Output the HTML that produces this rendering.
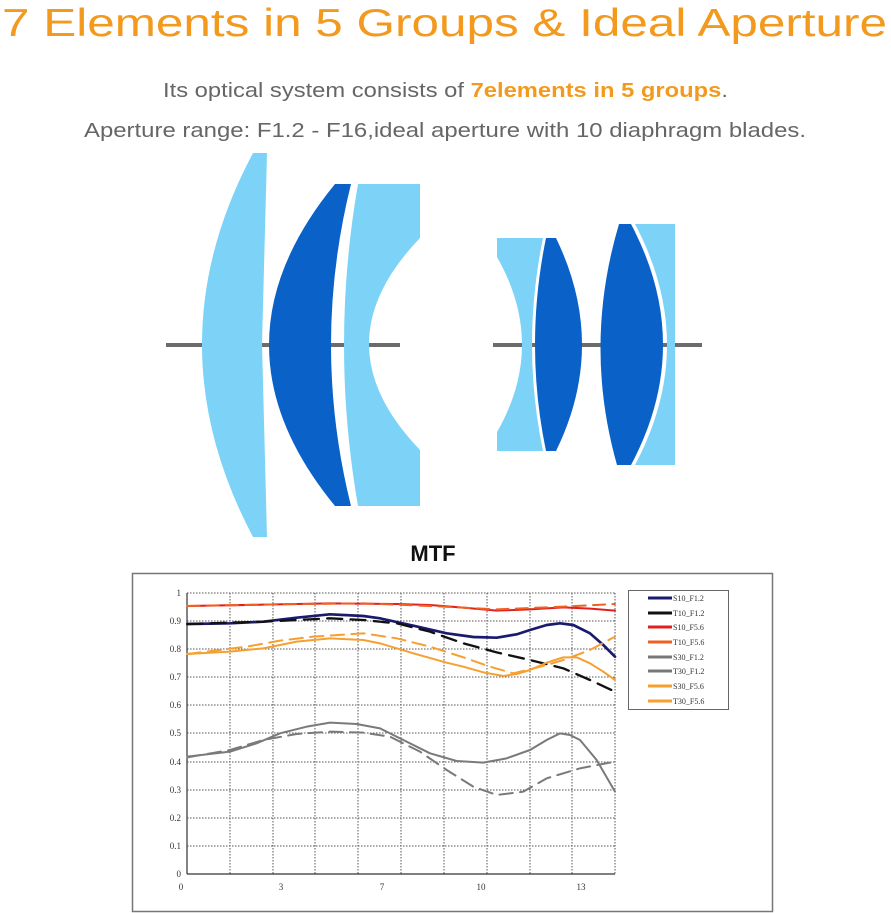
<!DOCTYPE html>
<html><head><meta charset="utf-8"><style>
html,body{margin:0;padding:0;background:#fff;}
svg{display:block}
</style></head><body>
<svg width="891" height="913" viewBox="0 0 891 913" xmlns="http://www.w3.org/2000/svg">
<rect width="891" height="913" fill="#fff"/>
<text x="2" y="36" font-family="Liberation Sans, sans-serif" font-size="39" fill="#F39A1E" textLength="885" lengthAdjust="spacingAndGlyphs">7 Elements in 5 Groups &amp; Ideal Aperture</text>
<text x="163" y="97" font-family="Liberation Sans, sans-serif" font-size="20" fill="#666" textLength="565" lengthAdjust="spacingAndGlyphs">Its optical system consists of <tspan fill="#F39A1E" font-weight="bold">7elements in 5 groups</tspan>.</text>
<text x="84" y="137" font-family="Liberation Sans, sans-serif" font-size="20" fill="#666" textLength="722" lengthAdjust="spacingAndGlyphs">Aperture range: F1.2 - F16,ideal aperture with 10 diaphragm blades.</text>

<!-- axes lines -->
<line x1="166" y1="345" x2="400" y2="345" stroke="#6b6b6b" stroke-width="4"/>
<line x1="493" y1="345" x2="702" y2="345" stroke="#6b6b6b" stroke-width="4"/>
<!-- lenses -->
<path d="M253,153 L267,153 L262,344 L267,537 L253,537 Q151,344 253,153 Z" fill="#7DD3F7"/>
<path d="M335,184 L351,184 Q311,345 351,506 L335,506 Q203,345 335,184 Z" fill="#0A62C8"/>
<path d="M358,184 L420,184 L420,238 Q318,344 420,450 L420,506 L358,506 Q330,345 358,184 Z" fill="#7DD3F7"/>
<path d="M497,238 L543,238 Q521,345 543,451 L497,451 L497,432 Q547,345 497,257 Z" fill="#7DD3F7"/>
<path d="M546,238 L556,238 Q608,345 556,451 L546,451 Q524,345 546,238 Z" fill="#0A62C8"/>
<path d="M619,224 L631,224 Q695,345 631,465 L617,465 Q583,345 619,224 Z" fill="#0A62C8"/>
<path d="M635,224 L675,224 L675,465 L635,465 Q699,345 635,224 Z" fill="#7DD3F7"/>

<text x="433" y="561" text-anchor="middle" font-family="Liberation Sans, sans-serif" font-weight="bold" font-size="22" fill="#111">MTF</text>
<rect x="132.5" y="573.5" width="640" height="338" fill="#fff" stroke="#777" stroke-width="1.5"/>

<g stroke="#555" stroke-width="1" stroke-dasharray="1.5,1.5">
<line x1="187" y1="593" x2="615" y2="593"/><line x1="187" y1="621" x2="615" y2="621"/><line x1="187" y1="649" x2="615" y2="649"/><line x1="187" y1="677" x2="615" y2="677"/><line x1="187" y1="705" x2="615" y2="705"/><line x1="187" y1="733" x2="615" y2="733"/><line x1="187" y1="762" x2="615" y2="762"/><line x1="187" y1="790" x2="615" y2="790"/><line x1="187" y1="818" x2="615" y2="818"/><line x1="187" y1="846" x2="615" y2="846"/>
<line x1="230" y1="593" x2="230" y2="874"/><line x1="273" y1="593" x2="273" y2="874"/><line x1="315" y1="593" x2="315" y2="874"/><line x1="358" y1="593" x2="358" y2="874"/><line x1="401" y1="593" x2="401" y2="874"/><line x1="444" y1="593" x2="444" y2="874"/><line x1="487" y1="593" x2="487" y2="874"/><line x1="530" y1="593" x2="530" y2="874"/><line x1="572" y1="593" x2="572" y2="874"/><line x1="615" y1="593" x2="615" y2="874"/>
</g>
<line x1="187" y1="593" x2="187" y2="874" stroke="#333" stroke-width="1.2"/>
<line x1="187" y1="874" x2="615" y2="874" stroke="#333" stroke-width="1.2"/>
<g font-family="Liberation Serif, serif" font-size="9" fill="#333" text-anchor="end">
<text x="181" y="596">1</text><text x="181" y="624">0.9</text><text x="181" y="652">0.8</text><text x="181" y="680">0.7</text><text x="181" y="708">0.6</text><text x="181" y="736">0.5</text><text x="181" y="765">0.4</text><text x="181" y="793">0.3</text><text x="181" y="821">0.2</text><text x="181" y="849">0.1</text><text x="181" y="877">0</text>
</g>
<g font-family="Liberation Serif, serif" font-size="9" fill="#333" text-anchor="middle">
<text x="181" y="890">0</text><text x="281" y="890">3</text><text x="382" y="890">7</text><text x="481" y="890">10</text><text x="581" y="890">13</text>
</g>

<g transform="translate(130,570) scale(0.33333)" fill="none" stroke-linejoin="round" stroke-linecap="round" stroke-width="6">
<polyline stroke="#e02020" points="172,108 400,104 600,100 800,102 900,105 1000,113 1100,122 1200,118 1300,112 1380,116 1455,122"/>
<polyline stroke="#f06020" stroke-dasharray="36,22" points="172,108 450,103 700,100 900,108 1100,118 1200,114 1300,110 1455,102"/>
<polyline stroke="#1a1a6e" stroke-width="8" points="172,162 300,160 400,155 500,143 600,133 700,138 750,145 850,167 950,190 1030,201 1100,203 1160,193 1200,180 1250,165 1290,160 1330,165 1380,190 1420,225 1455,260"/>
<polyline stroke="#111" stroke-width="7" stroke-dasharray="45,25" points="172,162 400,155 600,145 700,150 800,160 900,185 1000,220 1100,247 1200,270 1300,295 1380,330 1455,365"/>
<polyline stroke="#f5a030" points="172,252 300,245 400,235 500,215 600,205 700,210 750,220 850,250 950,278 1000,290 1060,307 1120,318 1160,312 1200,300 1250,278 1300,262 1340,262 1380,280 1420,305 1455,330"/>
<polyline stroke="#f5a030" stroke-dasharray="40,22" points="172,252 350,230 450,212 550,200 700,190 800,205 900,230 1000,262 1080,290 1150,310 1200,298 1250,285 1300,270 1380,240 1455,200"/>
<polyline stroke="#7a7a7a" points="172,560 300,545 380,520 450,490 530,470 600,458 680,462 750,475 820,510 900,550 980,573 1060,578 1130,565 1200,540 1250,510 1290,490 1320,495 1350,510 1400,570 1455,665"/>
<polyline stroke="#7a7a7a" stroke-dasharray="40,22" points="172,562 300,540 400,510 500,492 600,485 700,488 780,500 870,545 950,600 1030,650 1100,675 1180,665 1250,625 1350,595 1455,575"/>
</g>

<rect x="628.5" y="590.5" width="100" height="119" fill="#fff" stroke="#666" stroke-width="1"/>
<g stroke-width="3">
<line x1="648" y1="598" x2="672" y2="598" stroke="#1a1a6e"/>
<line x1="648" y1="613" x2="672" y2="613" stroke="#111"/>
<line x1="648" y1="627" x2="672" y2="627" stroke="#e02020"/>
<line x1="648" y1="642" x2="672" y2="642" stroke="#f06020"/>
<line x1="648" y1="657" x2="672" y2="657" stroke="#777"/>
<line x1="648" y1="671" x2="672" y2="671" stroke="#777"/>
<line x1="648" y1="686" x2="672" y2="686" stroke="#f5a030"/>
<line x1="648" y1="701" x2="672" y2="701" stroke="#f5a030"/>
</g>
<g font-family="Liberation Serif, serif" font-size="8" fill="#333">
<text x="673" y="601">S10_F1.2</text><text x="673" y="616">T10_F1.2</text><text x="673" y="630">S10_F5.6</text><text x="673" y="645">T10_F5.6</text><text x="673" y="660">S30_F1.2</text><text x="673" y="674">T30_F1.2</text><text x="673" y="689">S30_F5.6</text><text x="673" y="704">T30_F5.6</text>
</g>
</svg>
</body></html>
